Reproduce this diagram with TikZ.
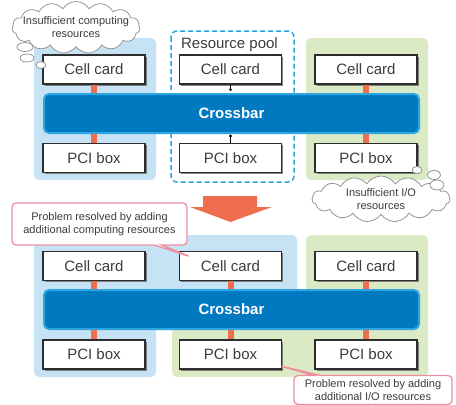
\documentclass[tikz,border=0pt]{standalone}
\usepackage{fontspec}
\setmainfont{Liberation Sans}
\usetikzlibrary{shapes,shapes.callouts,shadows,positioning,calc}

\definecolor{panelblue}{RGB}{198,226,245}
\definecolor{panelgreen}{RGB}{218,234,196}
\definecolor{xbarfill}{RGB}{0,121,193}
\definecolor{xbarline}{RGB}{45,165,225}
\definecolor{linkred}{RGB}{240,110,80}
\definecolor{pooldash}{RGB}{40,165,225}
\definecolor{notepink}{RGB}{240,140,160}
\definecolor{cloudline}{RGB}{150,150,150}
\definecolor{boxline}{RGB}{45,45,45}
\definecolor{txt}{RGB}{60,60,60}

\begin{document}
\begin{tikzpicture}[x=1pt,y=-1pt,
    card/.style={draw=boxline,fill=white,line width=1.2pt,minimum width=102pt,minimum height=29pt,inner sep=0pt,
        text=txt,font=\fontsize{15}{17}\selectfont,
        drop shadow={shadow xshift=1.5pt,shadow yshift=-1.5pt,fill=black!60,opacity=.8}},
    xbar/.style={draw=xbarline,fill=xbarfill,line width=2pt,rounded corners=5pt,minimum width=375pt,minimum height=39pt,
        text=white,font=\fontsize{15}{17}\selectfont\bfseries},
    link/.style={draw=linkred,line width=6pt},
    stub/.style={draw=black,line width=.8pt},
    thought/.style={cloud,cloud puffs=15,cloud puff arc=115,cloud ignores aspect,draw=cloudline,fill=white,line width=.8pt,inner sep=0pt},
    thoughttext/.style={align=center,text=txt,font=\fontsize{11}{13}\selectfont},
    bubble/.style={draw=cloudline,fill=white,line width=.8pt},
    note/.style={rectangle callout,rounded corners=4pt,draw=notepink,fill=white,line width=1.3pt,
        align=center,text=txt,font=\fontsize{11}{12.5}\selectfont,inner sep=0pt}
  ]
  \useasboundingbox (0,0) rectangle (456,405);

  % before: panels and the pool
  \fill[panelblue,rounded corners=5pt] (34,38) rectangle (156,180);
  \fill[panelgreen,rounded corners=5pt] (306,38) rectangle (428,180);
  \draw[pooldash,line width=1.5pt,dash pattern=on 5pt off 3pt,rounded corners=6pt] (171,31) rectangle (294,182);
  \node[text=txt,font=\fontsize{15}{17}\selectfont] (pool) at (229.5,45) {Resource pool};

  % after: panels
  \fill[panelblue,rounded corners=5pt] (34,235) -- (297,235) -- (297,305) -- (156,305) -- (156,377) -- (34,377) -- cycle;
  \fill[panelgreen,rounded corners=5pt] (306,235) -- (428,235) -- (428,377) -- (172,377) -- (172,315) -- (306,315) -- cycle;

  \node[xbar] (xbarA) at (231.5,113.5) {Crossbar};
  \node[xbar] (xbarB) at (231.5,309.5) {Crossbar};

  \foreach \i/\x in {1/94,2/230.5,3/366} {
    \node[card] (cellA\i) at (\x,69.5) {Cell card};
    \node[card] (pciA\i) at (\x,158) {PCI box};
    \node[card] (cellB\i) at (\x,266) {Cell card};
    \node[card] (pciB\i) at (\x,354.5) {PCI box};
    \draw[link] (cellB\i) -- (cellB\i |- xbarB.north);
    \draw[link] (xbarB.south -| pciB\i) -- (pciB\i);
  }
  \foreach \i in {1,3} {
    \draw[link] (cellA\i) -- (cellA\i |- xbarA.north);
    \draw[link] (xbarA.south -| pciA\i) -- (pciA\i);
  }

  % pooled cards, not yet connected
  \draw[stub] (cellA2.south) -- ++(0,5) coordinate (dotA);
  \fill (dotA) circle (1.6);
  \draw[stub] (pciA2.north) -- ++(0,-7) coordinate (dotB);
  \fill (dotB) circle (1.6);

  \fill[linkred] (203,196) -- (257,196) -- (257,207) -- (272,207) -- (230.5,222) -- (190,207) -- (203,207) -- cycle;

  % clouds
  \node[thought,minimum width=128pt,minimum height=52pt] (lackcpu) at (76,27.5) {};
  \node[thoughttext] (lackcpuText) at (lackcpu) {Insufficient computing\\resources};
  \draw[bubble] (25,47) ellipse (8 and 4.5);
  \draw[bubble] (27,58) ellipse (7 and 4);
  \draw[bubble] (41,65) ellipse (5 and 3.5);
  \node[thought,minimum width=138pt,minimum height=46pt] (lackio) at (381,199) {};
  \node[thoughttext] (lackioText) at (lackio) {Insufficient I/O\\resources};
  \draw[bubble] (417,170) ellipse (5 and 3.5);
  \draw[bubble] (434,175) ellipse (6.5 and 4.5);
  \draw[bubble] (437,185) ellipse (7 and 5);

  % callouts
  \node[note,minimum width=175pt,minimum height=42pt,callout absolute pointer={($(cellB2.north west)+(12,6)$)}] (fixcpu) at (99.5,224)
    {Problem resolved by adding\\additional computing resources};
  \node[note,minimum width=158pt,minimum height=29pt,callout absolute pointer={($(pciB2.south east)+(-3,-4)$)}] (fixio) at (373,390)
    {Problem resolved by adding\\additional I/O resources};
\end{tikzpicture}
\end{document}
